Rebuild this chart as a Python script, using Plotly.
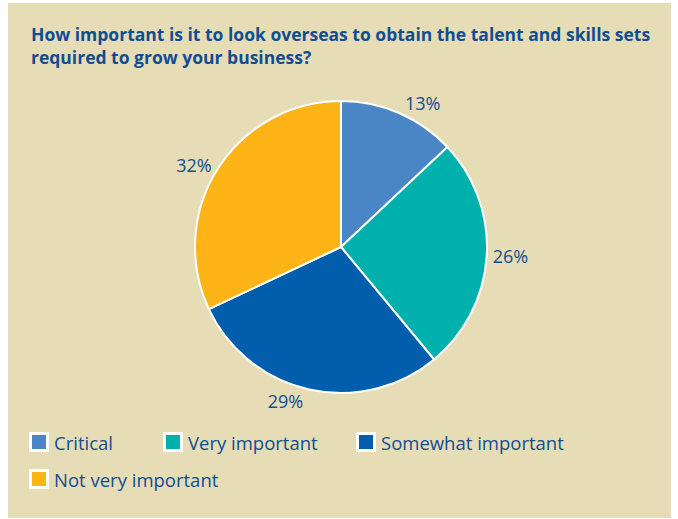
import plotly.graph_objects as go

# Survey responses
categories = ["Critical", "Very important", "Somewhat important", "Not very important"]
shares = [13, 26, 29, 32]
colors = ["#4a86c6", "#00b0ad", "#005eac", "#fdb416"]

title_text = ("How important is it to look overseas to obtain the talent and skills sets<br>"
              "required to grow your business?")

W, H = 678, 519
BG = "#e6ddb7"
INK = "#114d91"
FONT = "Open Sans"

# key layout: left edge of each swatch and the row centre it sits on (px)
key_slots = [(31, 442), (165, 442), (358, 442), (31, 479)]
SWATCH = 16


def px_x(x):
    return x / W


def px_y(y):
    return 1 - y / H


fig = go.Figure(go.Pie(
    labels=categories,
    values=shares,
    sort=False,
    direction="clockwise",
    rotation=0,
    marker=dict(colors=colors, line=dict(color="white", width=2)),
    textposition="outside",
    texttemplate="%{value}%",
    textfont=dict(family=FONT, size=18, color=INK),
    domain=dict(x=[px_x(195), px_x(487)], y=[px_y(393), px_y(101)]),
    hoverinfo="label+percent",
    showlegend=False,
))

shapes = [dict(
    type="rect", xref="paper", yref="paper",
    x0=px_x(8), x1=px_x(671), y0=px_y(518), y1=px_y(3),
    fillcolor=BG, line=dict(width=0), layer="below",
)]
annotations = [dict(
    text=title_text,
    xref="paper", yref="paper",
    x=px_x(29), y=px_y(20),
    xanchor="left", yanchor="top",
    align="left",
    showarrow=False,
    font=dict(family=FONT, size=17.5, color=INK, weight="bold"),
)]

# category key: white-edged swatch followed by its label
for name, color, (kx, ky) in zip(categories, colors, key_slots):
    shapes.append(dict(
        type="rect", xref="paper", yref="paper",
        x0=px_x(kx - 0.5), x1=px_x(kx + SWATCH + 0.5),
        y0=px_y(ky + SWATCH / 2 + 0.5), y1=px_y(ky - SWATCH / 2 - 0.5),
        fillcolor=color, line=dict(color="white", width=3), layer="above",
    ))
    annotations.append(dict(
        text=name,
        xref="paper", yref="paper",
        x=px_x(kx + SWATCH + 5), y=px_y(ky),
        xanchor="left", yanchor="middle",
        showarrow=False,
        font=dict(family=FONT, size=18.5, color=INK),
    ))

fig.update_layout(
    width=W,
    height=H,
    margin=dict(l=0, r=0, t=0, b=0),
    paper_bgcolor="white",
    plot_bgcolor="white",
    showlegend=False,
    shapes=shapes,
    annotations=annotations,
)

fig.write_html("out.html")
